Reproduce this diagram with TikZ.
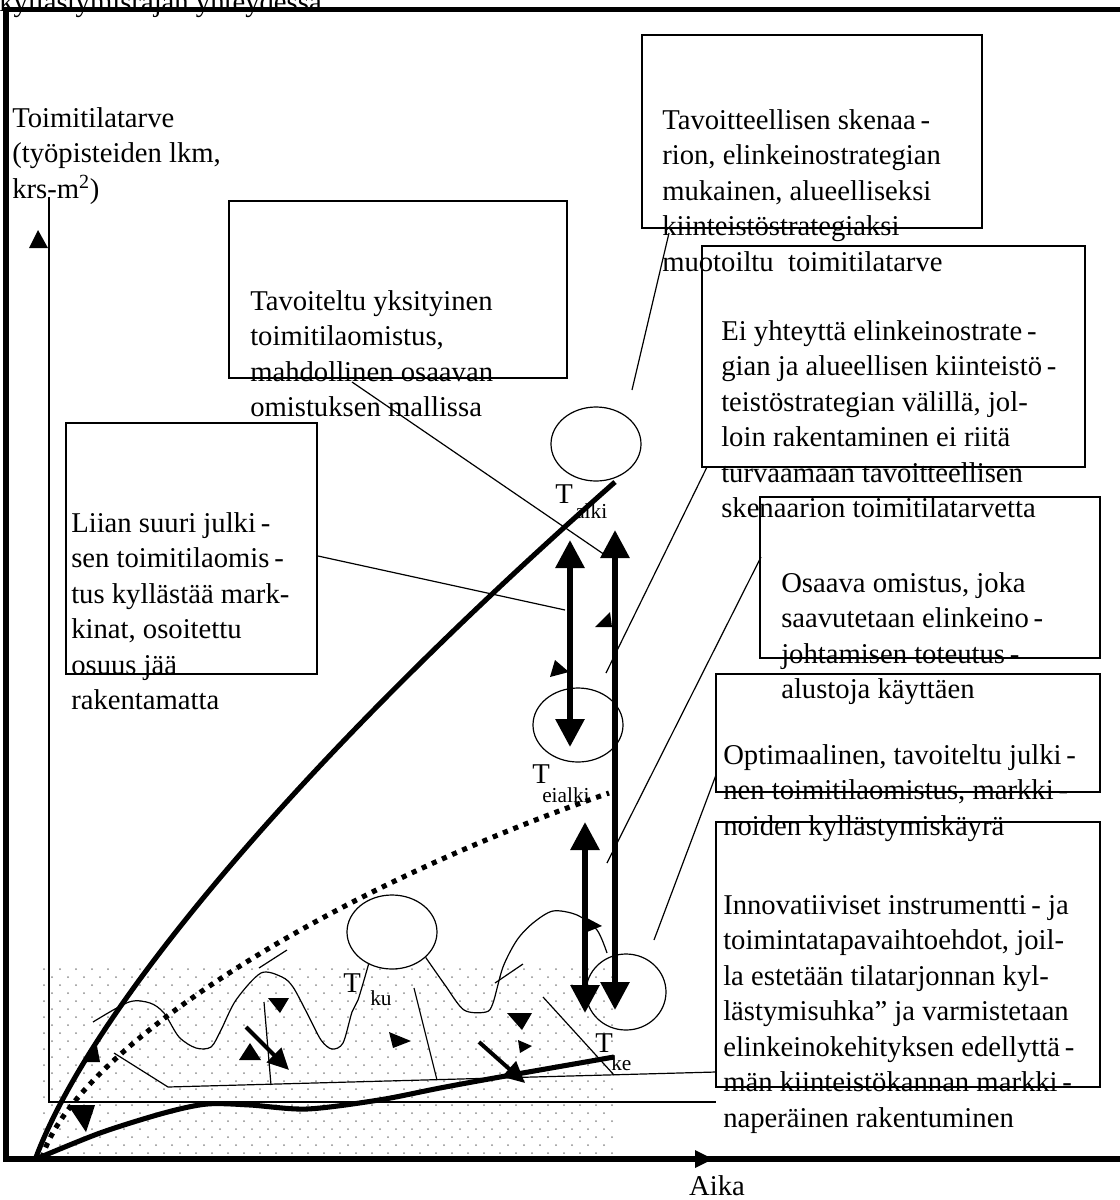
\documentclass[tikz,border=0pt]{standalone}
\usepackage{fontspec}
\setmainfont{Liberation Serif}
\usetikzlibrary{arrows.meta,shapes.geometric,fit}

\tikzset{
  frameline/.style={line width=3.8pt},
  leader/.style={line width=0.9pt},
  curveline/.style={line width=3.8pt},
  dotline/.style={line width=3.8pt, dash pattern=on 3.8pt off 4.5pt},
  boxframe/.style={draw, line width=0.9pt, inner sep=0pt},
  boxtext/.style={inner sep=0pt, anchor=north west, align=left, font=\fontsize{21.5}{26.6}\selectfont},
  blob/.style={draw, ellipse, line width=0.9pt, inner sep=0pt, minimum width=67.5pt, minimum height=55.5pt},
  tlabel/.style={inner sep=0pt, anchor=base west, font=\fontsize{21.5}{24}\selectfont},
  sublabel/.style={inner sep=0pt, anchor=base west, font=\fontsize{16}{18}\selectfont},
  levelarrow/.style={line width=4.5pt, {Triangle[length=21pt,width=21pt]}-{Triangle[length=21pt,width=21pt]}},
  pusharrow/.style={line width=3pt, -{Triangle[length=16pt,width=15pt]}},
}

\begin{document}
\begin{tikzpicture}[x=0.75pt, y=-0.75pt]
\useasboundingbox (0,0) rectangle (1120,1200);

\foreach \r in {0,...,23}
  \foreach \c in {0,...,35}
    \fill[black!45] ({44+16*\c+8*mod(\r,2)},{969+8*\r}) circle (0.75pt);

\node[boxtext, anchor=base west] (toptext) at (-1,11) {kyllästymisrajan yhteydessä.};
\draw[frameline] (1120,9.5) -- (6,9.5) -- (6,1159) -- (1120,1159);
\fill (695,1150) -- (713,1159) -- (695,1168) -- cycle;
\node[boxtext, anchor=base] (aika) at (717,1195) {Aika};

\coordinate (ytop) at (49,197);
\coordinate (origin) at (49,1102);
\coordinate (xend) at (716,1102);
\draw[leader] (ytop) -- (origin) -- (xend);
\fill (38,230) -- (48,248) -- (29,248) -- cycle;
\node[boxtext] (ylab) at (12,107) {Toimitilatarve\\(työpisteiden lkm,\\krs-m\textsuperscript{2})};

\node[boxframe, fit={(642,35) (982,228)}] (b1) {};
\node[boxframe, fit={(229,201) (567,378)}] (b2) {};
\node[boxframe, fit={(66,423) (317,674)}] (b3) {};
\node[boxframe, fit={(702,246) (1085,467)}] (b4) {};
\node[boxframe, fit={(760,497) (1100,658)}] (b5) {};
\node[boxframe, fit={(716,674) (1100,792)}] (b6) {};
\node[boxframe, fit={(716,822) (1100,1087)}] (b7) {};

\node[boxtext] (t1) at (662,109) {Tavoitteellisen skenaa\,-\\rion, elinkeinostrategian\\mukainen, alueelliseksi\\kiinteistöstrategiaksi\\muotoiltu\ \ toimitilatarve};
\node[boxtext] (t2) at (250,290) {Tavoiteltu yksityinen\\toimitilaomistus,\\mahdollinen osaavan\\omistuksen mallissa};
\node[boxtext] (t3) at (71,512) {Liian suuri julki\,-\\sen toimitilaomis\,-\\tus kyllästää mark-\\kinat, osoitettu\\osuus jää\\rakentamatta};
\node[boxtext] (t4) at (721,320) {Ei yhteyttä elinkeinostrate\,-\\gian ja alueellisen kiinteistö\,-\\teistöstrategian välillä, jol-\\loin rakentaminen ei riitä\\turvaamaan tavoitteellisen\\skenaarion toimitilatarvetta};
\node[boxtext] (t5) at (781,572) {Osaava omistus, joka\\saavutetaan elinkeino\,-\\johtamisen toteutus\,-\\alustoja käyttäen};
\node[boxtext] (t6) at (723,744) {Optimaalinen, tavoiteltu julki\,-\\nen toimitilaomistus, markki\,-\\noiden kyllästymiskäyrä};
\node[boxtext] (t7) at (723,895) {Innovatiiviset instrumentti\,- ja\\toimintatapavaihtoehdot, joil-\\la estetään tilatarjonnan kyl-\\lästymisuhka” ja varmistetaan\\elinkeinokehityksen edellyttä\,-\\män kiinteistökannan markki\,-\\naperäinen rakentuminen};

\node[blob] (ealki) at (596,444) {};
\node[blob] (eeialki) at (578,725) {};
\node[blob] (eku) at (392,932) {};
\node[blob, minimum width=60pt, minimum height=57pt] (eke) at (626,992) {};

\node[tlabel] (talki) at (555,503) {T};
\node[sublabel] (talkisub) at (575,518) {alki};
\node[tlabel] (teialki) at (532,783) {T};
\node[sublabel] (teialkisub) at (542,802) {eialki};
\node[tlabel] (tku) at (343,992) {T};
\node[sublabel] (tkusub) at (370,1005) {ku};
\node[tlabel] (tke) at (595,1052) {T};
\node[sublabel] (tkesub) at (611,1070) {ke};

\coordinate (o) at (35,1160);
\coordinate (alkiend) at (615,482);
\coordinate (kyllend) at (609,793);
\coordinate (keend) at (614,1057);
\draw[curveline] (o) .. controls (90,1010) and (300,760) .. (alkiend);
\draw[dotline] (42,1158) .. controls (70,1060) and (300,900) .. (kyllend);
\draw[curveline] plot[smooth] coordinates {(36,1159) (100,1133) (164,1113) (207,1104) (250,1105) (307,1109) (379,1100) (440,1088) (500,1077) (keend)};

\draw[leader] plot[smooth, tension=0.5] coordinates {(93,1022) (129,1002) (150,1003) (164,1013) (179,1037) (196,1048) (211,1047) (221,1030) (236,1000) (261,973) (282,977) (293,987) (307,1013) (321,1040) (332,1049) (343,1043) (352,1012) (358,1000) (eku.234)};
\draw[leader] plot[smooth, tension=0.5] coordinates {(eku.-37) (445,985) (464,1010) (486,1012) (493,1003) (503,967) (517,940) (533,923) (553,911) (577,915) (597,930) (607,953)};
\draw[leader] (259,968) -- (287,950);
\draw[leader] (495,983) -- (523,964);
\draw[leader] (264,1002) -- (271,1085);
\draw[leader] (414,988) -- (437,1080);
\draw[leader] (543,997) -- (614,1075);
\coordinate (basel) at (114,1053);
\coordinate (baser) at (716,1072);
\draw[leader] (basel) -- (168,1087) -- (baser);

\coordinate (l1a) at (669,233);
\coordinate (l1b) at (632,390);
\coordinate (l2a) at (352,382);
\coordinate (l2b) at (605,555);
\coordinate (l3a) at (318,556);
\coordinate (l3b) at (565,610);
\coordinate (l4a) at (707,467);
\coordinate (l4b) at (606,673);
\coordinate (l5a) at (761,557);
\coordinate (l5b) at (607,863);
\coordinate (l6a) at (716,775);
\coordinate (l6b) at (654,940);
\draw[leader] (l1a) -- (l1b);
\draw[leader] (l2a) -- (l2b);
\draw[leader] (l3a) -- (l3b);
\draw[leader] (l4a) -- (l4b);
\draw[leader] (l5a) -- (l5b);
\draw[leader] (l6a) -- (l6b);

\draw[levelarrow] (570,540) -- (570,747);
\draw[levelarrow] (615,530) -- (615,1010);
\draw[levelarrow] (585,822) -- (585,1013);

\fill (610,612) -- (595,627) -- (612,627) -- cycle;
\fill (555,660) -- (569,672) -- (550,677) -- cycle;
\fill (587,918) -- (602,926) -- (587,932) -- cycle;
\fill (84,1062) -- (97,1046) -- (100,1062) -- cycle;
\fill (68,1105) -- (95,1105) -- (86,1132) -- cycle;
\fill (268,998) -- (289,998) -- (280,1013) -- cycle;
\fill (250,1043) -- (261,1060) -- (239,1060) -- cycle;
\fill (389,1032) -- (411,1041) -- (393,1048) -- cycle;
\fill (507,1013) -- (532,1013) -- (522,1030) -- cycle;
\fill (518,1040) -- (532,1046) -- (520,1053) -- cycle;
\draw[pusharrow] (246,1027) -- (289,1070);
\draw[pusharrow] (479,1042) -- (525,1083);
\end{tikzpicture}
\end{document}
